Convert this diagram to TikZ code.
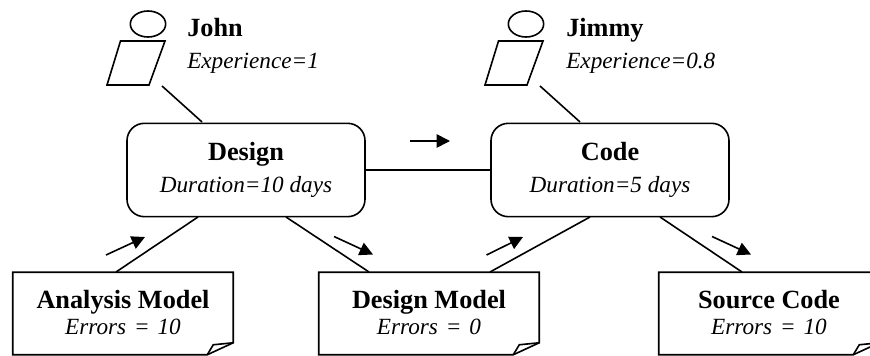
\documentclass[tikz,border=0pt]{standalone}
\usepackage{fontspec}
\setmainfont{Liberation Serif}
\usetikzlibrary{calc,arrows.meta,shapes.geometric}
\def\titletext#1{{\bfseries\fontsize{19.7}{24}\selectfont #1}}
\def\attrtext#1{{\itshape\fontsize{17.4}{24}\selectfont #1}}
\def\errtext#1{{\itshape\fontsize{17.4}{20}\selectfont \spaceskip=0.34em \rule[-1.5pt]{0pt}{0pt}#1}}
\def\foldbox(#1){\draw[thick line] (#1.north west) -- (#1.north east) -- ($(#1.south east)+(0,-12)$) -- ($(#1.south east)+(-26,0)$) -- (#1.south west) -- cycle;
	\draw[thick line] ($(#1.south east)+(-26,0)$) -- ($(#1.south east)+(-20,-10)$) -- ($(#1.south east)+(0,-12)$);}
\tikzset{
	thick line/.style={line width=1.2pt, line join=miter},
	taskbox/.style={draw, thick line, rounded corners=13pt, minimum width=178.5pt, minimum height=70pt, align=center, inner sep=0pt, font=\fontsize{19}{24}\selectfont},
	docbox/.style={minimum width=165pt, minimum height=61.5pt, align=center, inner sep=0pt, font=\fontsize{19}{20}\selectfont},
	headnode/.style={draw, thick line, ellipse, minimum width=26.5pt, minimum height=19.5pt, inner sep=0pt},
	namenode/.style={anchor=west, align=left, inner sep=0pt, font=\fontsize{19}{24}\selectfont},
	flow/.style={thick line, -{Triangle[length=10pt,width=10pt]}}
}
\begin{document}
\begin{tikzpicture}[x=0.75pt, y=-0.75pt]
	%%%%% START %%%%%
	\path[use as bounding box, clip] (0, 0) rectangle (870, 356);
	
	\node[headnode] (johnhead) at (148, 24) {};
	\draw[thick line] (120.5, 41) -- (165, 41) -- (149, 85) -- (107, 85) -- cycle;
	\node[namenode] (johnlabel) at (187, 45.5) {\titletext{John}\\\attrtext{Experience=1}};
	
	\node[headnode] (jimmyhead) at (526, 24) {};
	\draw[thick line] (498.5, 41) -- (543, 41) -- (527, 85) -- (485, 85) -- cycle;
	\node[namenode] (jimmylabel) at (566, 45.5) {\titletext{Jimmy}\\\attrtext{Experience=0.8}};
	
	\node[taskbox] (design) at (246, 170) {\titletext{Design}\\\attrtext{Duration=10 days}};
	\node[taskbox] (code) at (610, 170) {\titletext{Code}\\\attrtext{Duration=5 days}};
	
	\node[docbox] (analysis) at (123, 313.5) {\titletext{Analysis Model}\\\errtext{Errors = 10}};
	\node[docbox] (designmodel) at (429, 313.5) {\titletext{Design Model}\\\errtext{Errors = 0}};
	\node[docbox] (sourcecode) at (769, 313.5) {\titletext{Source Code}\\\errtext{Errors = 10}};
	\foldbox(analysis);
	\foldbox(designmodel);
	\foldbox(sourcecode);
	
	\coordinate (johnfoot) at (162, 86);
	\coordinate (designtop) at (202, 122);
	\coordinate (jimmyfoot) at (540, 86);
	\coordinate (codetop) at (580, 122);
	\draw[thick line] (johnfoot) -- (designtop);
	\draw[thick line] (jimmyfoot) -- (codetop);
	
	\draw[thick line] (design.east) -- (code.west);
	
	\coordinate (analysistop) at (116, 272);
	\coordinate (designleft) at (198, 217);
	\coordinate (designright) at (286, 217);
	\coordinate (modeltopl) at (369, 272);
	\coordinate (modeltopr) at (490, 272);
	\coordinate (codeleft) at (590, 217);
	\coordinate (coderight) at (660, 217);
	\coordinate (sourcetop) at (742, 272);
	\draw[thick line] (analysistop) -- (designleft);
	\draw[thick line] (designright) -- (modeltopl);
	\draw[thick line] (modeltopr) -- (codeleft);
	\draw[thick line] (coderight) -- (sourcetop);
	
	\coordinate (flowa) at (410, 141);
	\coordinate (flowb) at (450, 141);
	\coordinate (flowc) at (106, 255);
	\coordinate (flowd) at (145, 237);
	\coordinate (flowe) at (334, 236.5);
	\coordinate (flowf) at (373, 254.5);
	\coordinate (flowg) at (486.5, 255);
	\coordinate (flowh) at (523, 237);
	\coordinate (flowi) at (712, 236.5);
	\coordinate (flowj) at (751, 254.5);
	\draw[flow] (flowa) -- (flowb);
	\draw[flow] (flowc) -- (flowd);
	\draw[flow] (flowe) -- (flowf);
	\draw[flow] (flowg) -- (flowh);
	\draw[flow] (flowi) -- (flowj);
	%%%%% END %%%%%
\end{tikzpicture}
\end{document}
